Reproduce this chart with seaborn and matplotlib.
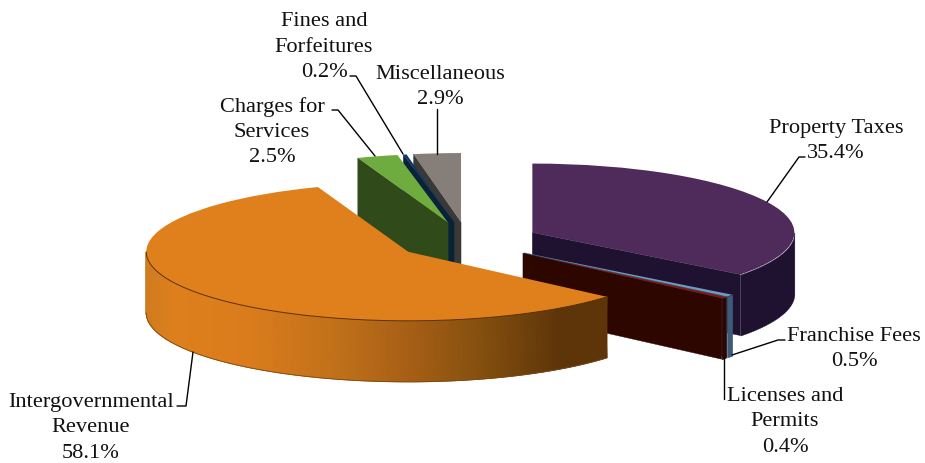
import numpy as np
import matplotlib
matplotlib.use("Agg")
import matplotlib.pyplot as plt
from matplotlib.colors import LinearSegmentedColormap
from matplotlib.lines import Line2D
from matplotlib.transforms import Affine2D
import seaborn as sns

categories = ["Property Taxes", "Franchise Fees", "Licenses and\nPermits",
              "Intergovernmental\nRevenue", "Charges for\nServices",
              "Fines and\nForfeitures", "Miscellaneous"]
values = [35.4, 0.5, 0.4, 58.1, 2.5, 0.2, 2.9]

top_colors = ["#4F2B5C", "#6F9BC0", "#7A1A10", "#DF801C", "#6FAC3F", "#0F3A5F", "#857E79"]
side_colors = ["#1E1230", "#3E5A78", "#2D0600", "#DE7F1D", "#314A1A", "#0A2238", "#3B3838"]
stack_order = [4, 5, 6, 7, 3, 2, 1]

W, H = 925, 464
RX, RY = 262.0, 69.0
CX, CY = 467.6, 242.0
EXPLODE = 0.2756
DEPTH = 61.0 / RY

# horizontal gradient of the big slice wall: pixel x -> colour
grad_x = [146, 175, 250, 340, 415, 480, 560, 610]
grad_c = ["#D07C20", "#DE7F1D", "#DA7C1C", "#C0701A", "#A55E15", "#85500F", "#5E3509", "#5E3509"]

# label layout: centre x, centre y (pixels)
label_pos = [(836, 141), (854, 349), (785, 422), (91, 428), (272, 132), (324, 47), (440, 87)]
leaders = [
    [(805, 158), (799, 158), (767, 203)],
    [(785, 341), (778, 341), (732, 356)],
    [(724, 358), (724, 400)],
    [(177, 407), (186, 407), (193, 353)],
    [(332, 111), (338, 111), (375, 157)],
    [(350, 77), (356, 77), (403, 155)],
    [(437, 110), (437, 155)],
]

sns.set_theme(style="white")
plt.rcParams["font.family"] = ["Liberation Serif", "DejaVu Serif"]

fig = plt.figure(figsize=(W / 100, H / 100), dpi=100, facecolor="white")
ax = fig.add_axes([0, 0, 1, 1])
labels_txt = [f"{c}\n{v:.1f}%" for c, v in zip(categories, values)]
wedges, _ = ax.pie(values, explode=[EXPLODE] * len(values), startangle=90,
                   counterclock=False, radius=1, colors=top_colors,
                   wedgeprops=dict(linewidth=0))
ax.set_aspect("auto")
ax.axis("off")

stops = [(x - grad_x[0]) / (grad_x[-1] - grad_x[0]) for x in grad_x]
wall_cmap = LinearSegmentedColormap.from_list("wall", list(zip(stops, grad_c)), N=512)

for i, w in enumerate(wedges):
    z = stack_order[i]
    w.set_zorder(z + 0.5)
    cx, cy = w.center
    # radial cut faces that turn towards the viewer
    for t, sign in ((w.theta1, -1), (w.theta2, 1)):
        normal = np.radians(t + sign * 90)
        if np.sin(normal) < 0:
            ex, ey = cx + np.cos(np.radians(t)), cy + np.sin(np.radians(t))
            ax.fill([cx, ex, ex, cx], [cy, ey, ey - DEPTH, cy - DEPTH],
                    color=side_colors[i], lw=0.3, zorder=z)
    # outer wall on the front half of the ellipse
    lo, hi = max(w.theta1, -180), min(w.theta2, 0)
    if lo < hi:
        th = np.radians(np.linspace(lo, hi, 200))
        x = cx + np.cos(th)
        y = cy + np.sin(th)
        if categories[i].startswith("Inter"):
            X = np.vstack([x, x])
            Y = np.vstack([y, y - DEPTH])
            ax.pcolormesh(X, Y, X * RX + CX, shading="gouraud", cmap=wall_cmap,
                          vmin=grad_x[0], vmax=grad_x[-1], zorder=z)
            ax.plot(x, y, color="#5A3208", lw=0.7, zorder=z + 0.6)
            ax.plot(x, y - DEPTH, color="#7A4A15", lw=0.6, zorder=z + 0.6)
        else:
            ax.fill_between(x, y, y - DEPTH, color=side_colors[i], lw=0.3, zorder=z)
ax.set_xlim(-CX / RX, (W - CX) / RX)
ax.set_ylim((CY - H) / RY, CY / RY)

px = Affine2D().scale(1 / W, -1 / H).translate(0, 1) + fig.transFigure
for pts in leaders:
    xs, ys = zip(*pts)
    fig.add_artist(Line2D(xs, ys, transform=px, color="black", lw=1.0, zorder=20))
for (x, y), s in zip(label_pos, labels_txt):
    fig.text(x, y, s, transform=px, ha="center", va="center", fontsize=16.1,
             color="#111111", linespacing=1.45, zorder=21)

fig.savefig("out.png", dpi=100, facecolor="white")
